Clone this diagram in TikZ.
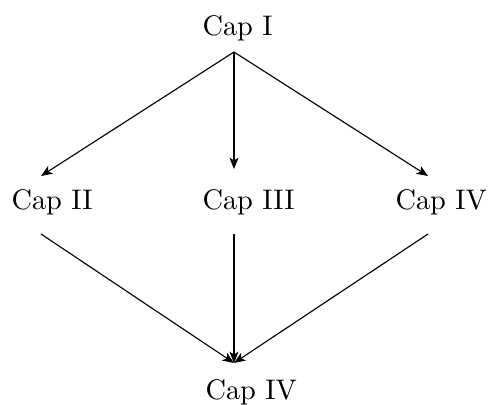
\documentclass[tikz,border=0pt]{standalone}
\usetikzlibrary{arrows.meta}
\begin{document}
\begin{tikzpicture}[x=0.353pt,y=-0.353pt,
  chaplabel/.style={inner sep=0pt,anchor=base west,font=\fontsize{10}{12}\selectfont},
  arr/.style={-{Stealth[length=4pt,width=3.2pt,inset=1pt]},line width=0.4pt}]
\useasboundingbox (0,0) rectangle (488,405);
% chapter labels
\node[chaplabel] (c1) at (202,35) {Cap I};
\node[chaplabel] (c2) at (11,209) {Cap II};
\node[chaplabel] (c3) at (202,209) {Cap III};
\node[chaplabel] (c4) at (395,209) {Cap IV};
\node[chaplabel] (c5) at (205,399) {Cap IV};
% attachment points of the connectors
\coordinate (c1s) at (234,52);
\coordinate (c2n) at (41,176);
\coordinate (c3n) at (234,169);
\coordinate (c4n) at (428,176);
\coordinate (c2s) at (41,234);
\coordinate (c3s) at (234,234);
\coordinate (c4s) at (428,234);
\coordinate (c5n) at (234,363);
% dependencies
\draw[arr] (c1s) -- (c2n);
\draw[arr] (c1s) -- (c3n);
\draw[arr] (c1s) -- (c4n);
\draw[arr] (c2s) -- (c5n);
\draw[arr] (c3s) -- (c5n);
\draw[arr] (c4s) -- (c5n);
\end{tikzpicture}
\end{document}
